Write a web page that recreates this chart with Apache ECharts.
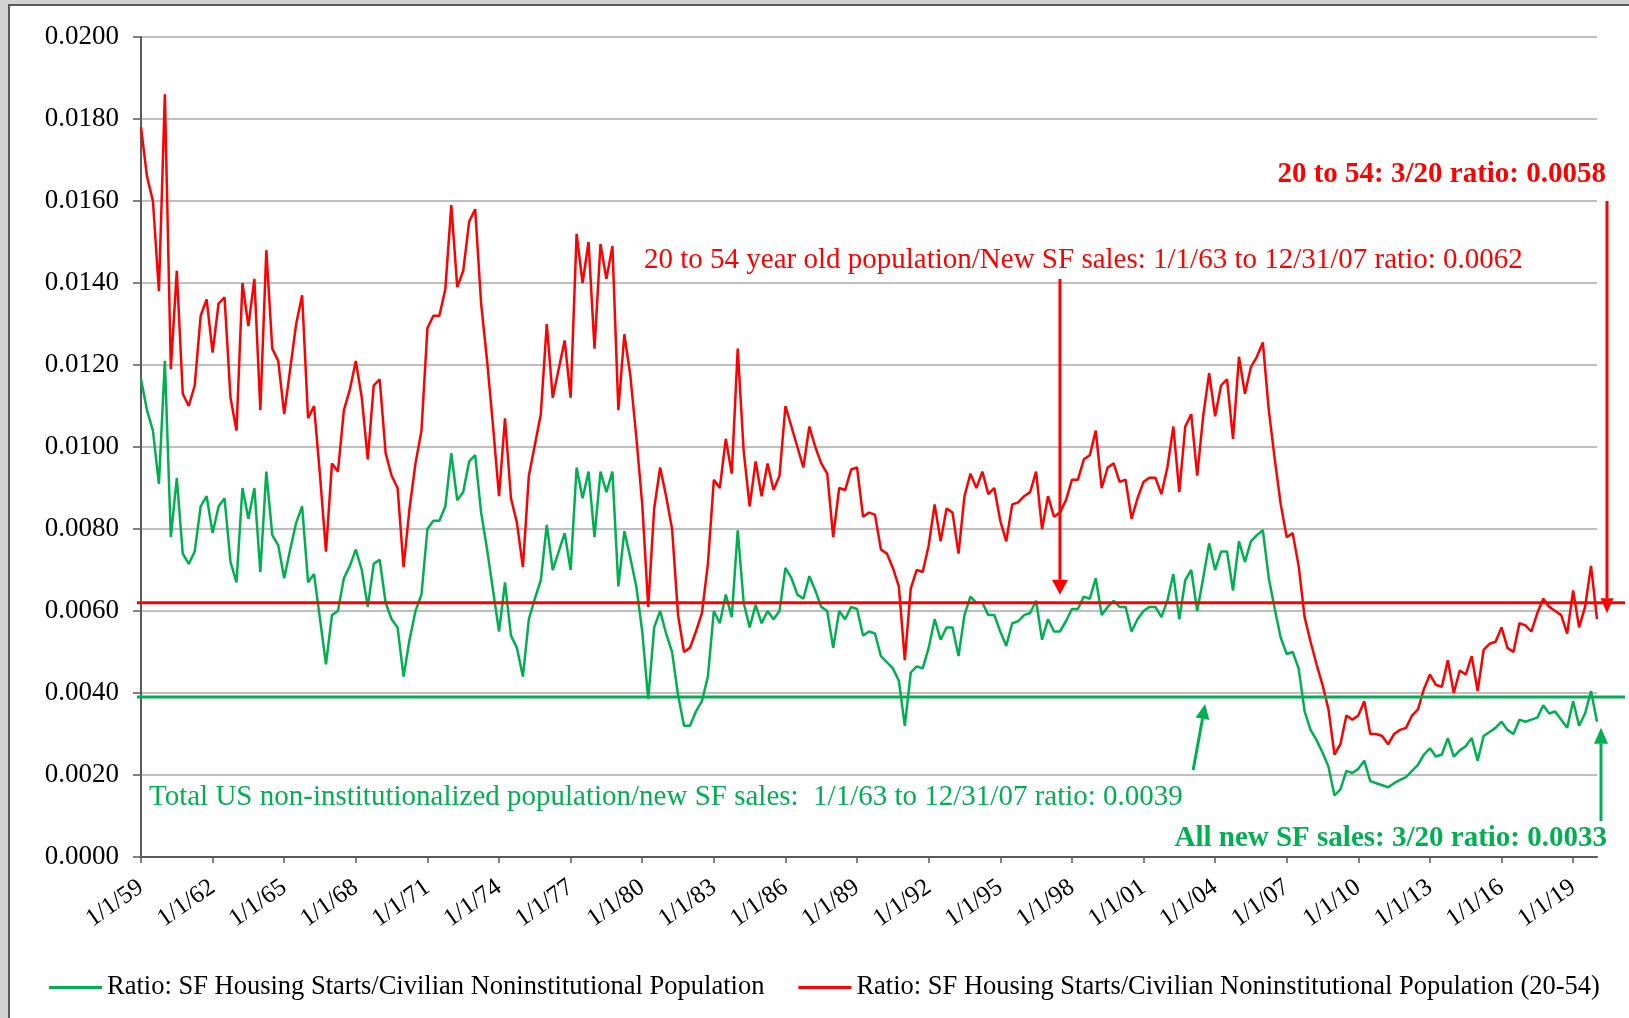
<!DOCTYPE html>
<html>
<head>
<meta charset="utf-8">
<title>SF Housing Starts / Population</title>
<script src="https://cdn.jsdelivr.net/npm/echarts@6/dist/echarts.min.js"></script>
<style>
  html, body { margin: 0; padding: 0; width: 1629px; height: 1018px; overflow: hidden; background: #d2d2d2; }
  #frame { position: absolute; left: 8px; top: 4px; width: 1640px; height: 1040px; background: #fff;
           border-left: 2px solid #5a5a5a; border-top: 2px solid #5a5a5a; }
  #chart { position: absolute; left: 0; top: 0; width: 1629px; height: 1018px; }
</style>
</head>
<body>
<div id="frame"></div>
<div id="chart"></div>
<script>
// Quarterly ratios, Q1 1959 through Q1 2020.
const firstYear = 1959;
const quarterMonths = [1, 4, 7, 10];

// SF housing starts / civilian noninstitutional population (all ages)
const ratioAll = [
  0.01165,0.0109,0.0104,0.0091,0.0121,0.0078,0.00925,0.0074,0.00715,0.00745,
  0.00855,0.0088,0.0079,0.00855,0.00875,0.0072,0.0067,0.0090,0.00825,0.0090,
  0.00695,0.0094,0.00785,0.0076,0.0068,0.0075,0.00815,0.00855,0.0067,0.0069,
  0.0058,0.0047,0.0059,0.0060,0.0068,0.0071,0.0075,0.0070,0.0061,0.00715,
  0.00725,0.0062,0.0058,0.0056,0.0044,0.0053,0.0060,0.0064,0.0080,0.0082,
  0.0082,0.00855,0.00985,0.0087,0.0089,0.00965,0.0098,0.0084,0.0075,0.0065,
  0.0055,0.0067,0.0054,0.0051,0.0044,0.0058,0.0063,0.00675,0.0081,0.0070,
  0.00745,0.0079,0.0070,0.0095,0.00875,0.0094,0.0078,0.0094,0.0089,0.0094,
  0.0066,0.00795,0.0073,0.0066,0.0055,0.00385,0.0056,0.0060,0.00545,0.0050,
  0.00395,0.0032,0.0032,0.00355,0.0038,0.0044,0.0060,0.0057,0.0064,0.00585,
  0.00797,0.0062,0.0056,0.00615,0.0057,0.0060,0.0058,0.0060,0.00705,0.0068,
  0.0064,0.0063,0.00685,0.0065,0.0061,0.0060,0.0051,0.0060,0.0058,0.0061,
  0.00605,0.0054,0.0055,0.00545,0.0049,0.00475,0.0046,0.0043,0.0032,0.0045,
  0.00465,0.0046,0.0051,0.0058,0.0053,0.0056,0.0056,0.0049,0.0059,0.00635,
  0.0062,0.0062,0.0059,0.0059,0.0055,0.00515,0.0057,0.00575,0.0059,0.00595,
  0.00625,0.0053,0.0058,0.0055,0.0055,0.00575,0.00605,0.00605,0.00635,0.0063,
  0.0068,0.0059,0.0061,0.00625,0.0061,0.0061,0.0055,0.0058,0.0060,0.0061,
  0.0061,0.00585,0.00625,0.0069,0.0058,0.00675,0.0070,0.0060,0.0068,0.00765,
  0.0070,0.00745,0.00745,0.0065,0.0077,0.0072,0.0077,0.00785,0.00797,0.0068,
  0.00605,0.00535,0.00495,0.0050,0.0046,0.00355,0.0031,0.00285,0.00255,0.0022,
  0.0015,0.00165,0.0021,0.00205,0.00215,0.00235,0.00185,0.0018,0.00175,0.0017,
  0.0018,0.00188,0.00195,0.0021,0.00225,0.0025,0.00265,0.00245,0.0025,0.0029,
  0.00245,0.0026,0.0027,0.0029,0.00235,0.00295,0.00305,0.00315,0.0033,0.0031,
  0.0030,0.00335,0.0033,0.00335,0.0034,0.0037,0.0035,0.00355,0.00335,0.00315,
  0.0038,0.0032,0.0035,0.00405,0.0033
];

// SF housing starts / civilian noninstitutional population aged 20-54
const ratio2054 = [
  0.0178,0.0166,0.0160,0.0138,0.0186,0.0119,0.0143,0.0113,0.0110,0.0115,
  0.0132,0.0136,0.0123,0.0135,0.01365,0.0112,0.0104,0.0140,0.01295,0.0141,
  0.0109,0.0148,0.0124,0.0121,0.0108,0.0119,0.0130,0.0137,0.0107,0.0110,
  0.0093,0.00745,0.0096,0.0094,0.0109,0.0114,0.0121,0.0112,0.0097,0.0115,
  0.01165,0.00985,0.0093,0.0090,0.00707,0.0085,0.0096,0.0104,0.0129,0.0132,
  0.0132,0.01385,0.0159,0.0139,0.0143,0.0155,0.0158,0.0135,0.0121,0.0105,
  0.0088,0.0107,0.00875,0.00815,0.00707,0.0093,0.01005,0.0108,0.0130,0.0112,
  0.0119,0.0126,0.0112,0.0152,0.0140,0.0150,0.0124,0.01495,0.0141,0.0149,
  0.0109,0.01275,0.01175,0.01025,0.0086,0.0061,0.0085,0.0095,0.0088,0.0080,
  0.0059,0.0050,0.0051,0.0055,0.00595,0.00715,0.0092,0.0090,0.0102,0.00935,
  0.0124,0.0099,0.00855,0.00965,0.0088,0.0096,0.00895,0.0093,0.0110,0.0105,
  0.0100,0.0095,0.0105,0.0100,0.0096,0.00935,0.0078,0.0090,0.00895,0.00945,
  0.0095,0.0083,0.0084,0.00835,0.0075,0.0074,0.00705,0.0066,0.0048,0.00655,
  0.0070,0.00695,0.0076,0.0086,0.0077,0.0085,0.0084,0.0074,0.0088,0.00935,
  0.0090,0.0094,0.00885,0.0090,0.0082,0.0077,0.0086,0.00865,0.0088,0.0089,
  0.0094,0.0080,0.0088,0.0083,0.0084,0.0087,0.0092,0.0092,0.0097,0.0098,
  0.0104,0.0090,0.0095,0.0096,0.00915,0.0092,0.00825,0.00875,0.00915,0.00925,
  0.00925,0.00885,0.0095,0.0105,0.0089,0.0105,0.0108,0.0093,0.01075,0.0118,
  0.01075,0.0115,0.01165,0.0102,0.0122,0.0113,0.01195,0.0122,0.01255,0.0109,
  0.0097,0.0086,0.0078,0.0079,0.0071,0.00585,0.00525,0.0047,0.0042,0.0036,
  0.0025,0.00275,0.00345,0.00335,0.00345,0.0038,0.0030,0.0030,0.00295,0.00275,
  0.0030,0.0031,0.00315,0.00345,0.0036,0.0041,0.00445,0.0042,0.00415,0.0048,
  0.0040,0.00455,0.00445,0.0049,0.00405,0.00505,0.0052,0.00525,0.0056,0.0051,
  0.0050,0.0057,0.00565,0.0055,0.00595,0.0063,0.0061,0.0060,0.0059,0.00545,
  0.0065,0.0056,0.0061,0.0071,0.0058
];

// Reference levels quoted in the annotations
const avg2054 = 0.0062;     // 1/1/63 - 12/31/07 average, ages 20-54
const avgAll = 0.0039;      // 1/1/63 - 12/31/07 average, all ages
const latest2054 = 0.0058;  // March 2020, ages 20-54
const latestAll = 0.0033;   // March 2020, all ages

const seriesNames = [
  'Ratio: SF Housing Starts/Civilian Noninstitutional Population',
  'Ratio: SF Housing Starts/Civilian Noninstitutional Population (20-54)'
];

const notes = {
  latest2054: '20 to 54: 3/20 ratio: 0.0058',
  avg2054: '20 to 54 year old population/New SF sales: 1/1/63 to 12/31/07 ratio: 0.0062',
  avgAll: 'Total US non-institutionalized population/new SF sales:  1/1/63 to 12/31/07 ratio: 0.0039',
  latestAll: 'All new SF sales: 3/20 ratio: 0.0033'
};

const categories = ratioAll.map((_, i) => {
  const y = firstYear + Math.floor(i / 4);
  return quarterMonths[i % 4] + '/1/' + String(y % 100).padStart(2, '0');
});

// one labelled tick every three years (every 12th quarter)
const everyThreeYears = idx => idx % 12 === 0;

const GREEN = '#00b050';
const RED = '#ff0000';
const AXIS = '#5a5a5a';
const FONT = '"Liberation Serif", "Times New Roman", serif';

const chart = echarts.init(document.getElementById('chart'), null, { renderer: 'canvas' });

chart.setOption({
  animation: false,
  backgroundColor: 'transparent',
  grid: { left: 141, right: 32, top: 37, bottom: 161, containLabel: false },
  legend: {
    left: 44, top: 969,
    icon: 'rect', itemWidth: 53, itemHeight: 3, itemGap: 34,
    textStyle: { fontFamily: FONT, fontSize: 26.5, color: '#000' },
    data: seriesNames
  },
  xAxis: {
    type: 'category',
    data: categories,
    boundaryGap: false,
    axisLine: { lineStyle: { color: AXIS, width: 2 } },
    axisTick: { show: true, interval: everyThreeYears, length: 6, lineStyle: { color: AXIS, width: 1.5 } },
    axisLabel: {
      interval: everyThreeYears, rotate: 35, margin: 28,
      fontFamily: FONT, fontSize: 25, color: '#000'
    },
    splitLine: { show: false }
  },
  yAxis: {
    type: 'value', min: 0, max: 0.02, interval: 0.002,
    axisLine: { show: true, lineStyle: { color: AXIS, width: 2 } },
    axisTick: { show: true, length: 8, lineStyle: { color: AXIS, width: 1.5 } },
    axisLabel: {
      margin: 22, fontFamily: FONT, fontSize: 27, color: '#000',
      formatter: v => v.toFixed(4)
    },
    splitLine: { lineStyle: { color: '#bfbfbf', width: 2 } }
  },
  series: [
    {
      name: seriesNames[0], type: 'line', data: ratioAll,
      symbol: 'none', lineStyle: { color: GREEN, width: 2.5 }, itemStyle: { color: GREEN }
    },
    {
      name: seriesNames[1], type: 'line', data: ratio2054,
      symbol: 'none', lineStyle: { color: RED, width: 2.5 }, itemStyle: { color: RED }
    }
  ]
});

// Pixel helpers through the chart's own scales
const yPx = v => chart.convertToPixel({ yAxisIndex: 0 }, v);
const xPx = i => chart.convertToPixel({ xAxisIndex: 0 }, i);

function arrow(x1, y1, x2, y2, color, headLen, headW) {
  const dx = x2 - x1, dy = y2 - y1, len = Math.hypot(dx, dy);
  const ux = dx / len, uy = dy / len;
  const bx = x2 - ux * headLen, by = y2 - uy * headLen;
  const px = -uy * headW / 2, py = ux * headW / 2;
  return [
    { type: 'line', silent: true, z: 100,
      shape: { x1, y1, x2: bx, y2: by }, style: { stroke: color, lineWidth: 3 } },
    { type: 'polygon', silent: true, z: 100,
      shape: { points: [[x2, y2], [bx + px, by + py], [bx - px, by - py]] }, style: { fill: color } }
  ];
}

function hLine(y, color) {
  return { type: 'line', silent: true, z: 90,
    shape: { x1: 137, y1: y, x2: 1625, y2: y }, style: { stroke: color, lineWidth: 3 } };
}

function label(text, x, y, color, size, bold, align) {
  return { type: 'text', silent: true, z: 110,
    style: { text, x, y, fill: color, align, verticalAlign: 'middle',
             font: (bold ? 'bold ' : '') + size + 'px ' + FONT } };
}

const yAvg2054 = yPx(avg2054);
const yAvgAll = yPx(avgAll);
const xEnd = xPx(ratio2054.length - 1);
const xMid97 = xPx(154);
const xMid03 = xPx(178);

chart.setOption({
  graphic: [
    hLine(yAvg2054, RED),
    hLine(yAvgAll, GREEN),
    ...arrow(xMid97, 279, xMid97, yAvg2054 - 8, RED, 15, 16),
    ...arrow(xEnd + 10, yPx(0.016), xEnd + 10, yPx(latest2054) - 6, RED, 15, 13),
    ...arrow(xMid03 - 10, 770, xMid03 + 2, yAvgAll + 7, GREEN, 15, 14),
    ...arrow(xEnd + 4, 821, xEnd + 4, yPx(latestAll) + 6, GREEN, 16, 14),
    label(notes.latest2054, 1606, 175, RED, 29, true, 'right'),
    label(notes.avg2054, 644, 260, RED, 29, false, 'left'),
    label(notes.avgAll, 149, 797, GREEN, 29, false, 'left'),
    label(notes.latestAll, 1607, 839, GREEN, 29, true, 'right')
  ]
});
</script>
</body>
</html>
